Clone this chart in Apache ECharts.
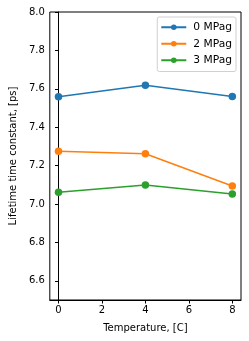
<!DOCTYPE html>
<html><head><meta charset="utf-8">
<script src="https://cdn.jsdelivr.net/npm/echarts@6/dist/echarts.min.js"></script>
<style>html,body{margin:0;padding:0;background:#fff}#c{width:249px;height:341px}</style>
</head><body><div id="c"></div>
<script>
const temperatures = [0, 4, 8];
const seriesNames = ['0 MPag', '2 MPag', '3 MPag'];
const values0 = [7.558, 7.619, 7.56];
const values2 = [7.275, 7.262, 7.094];
const values3 = [7.061, 7.099, 7.052];
const xTicks = [0, 2, 4, 6, 8];
const yTicks = [6.6, 6.8, 7.0, 7.2, 7.4, 7.6, 7.8, 8.0];
const colors = ['#1f77b4', '#ff7f0e', '#2ca02c'];
const allValues = [values0, values2, values3];

const font = 'DejaVu Sans';
const chart = echarts.init(document.getElementById('c'));
chart.setOption({
  animation: false,
  textStyle: {fontFamily: font},
  grid: {left: 47, top: 12, right: 8, bottom: 41, show: true, borderColor: '#000', borderWidth: 1, backgroundColor: 'transparent'},
  legend: {
    orient: 'vertical', right: 13, top: 17,
    itemWidth: 25, itemHeight: 7, itemGap: 4,
    padding: [4, 4, 5, 3],
    borderColor: '#d0d0d0', borderWidth: 1, borderRadius: 2,
    backgroundColor: 'rgba(255,255,255,0.8)',
    textStyle: {fontFamily: font, fontSize: 10.7, lineHeight: 12.5, color: '#000', padding: [0, 0, 0, 2]},
    data: seriesNames
  },
  xAxis: {
    type: 'value', min: -0.4, max: 8.4,
    name: 'Temperature, [C]', nameLocation: 'middle', nameGap: 23,
    nameTextStyle: {fontFamily: font, fontSize: 10, color: '#000'},
    axisLine: {show: true, lineStyle: {color: '#000', width: 1}},
    axisTick: {show: true, inside: false, length: 3.5, customValues: xTicks, lineStyle: {color: '#000'}},
    axisLabel: {customValues: xTicks, fontFamily: font, fontSize: 10, color: '#000', margin: 5},
    splitLine: {show: false}
  },
  yAxis: {
    type: 'value', min: 6.5, max: 8.0,
    name: 'Lifetime time constant, [ps]', nameLocation: 'middle', nameGap: 31,
    nameTextStyle: {fontFamily: font, fontSize: 10, color: '#000'},
    axisLine: {show: true, lineStyle: {color: '#000', width: 1}},
    axisTick: {show: true, inside: false, length: 3.5, customValues: yTicks, lineStyle: {color: '#000'}},
    axisLabel: {customValues: yTicks, fontFamily: font, fontSize: 10, color: '#000', margin: 5,
      formatter: v => v.toFixed(1)},
    splitLine: {show: false}
  },
  series: seriesNames.map((n, i) => ({
    name: n, type: 'line',
    data: temperatures.map((t, j) => [t, allValues[i][j]]),
    symbol: 'circle', symbolSize: 7.5,
    itemStyle: {color: colors[i]},
    lineStyle: {color: colors[i], width: 1.5}
  }))
});
</script></body></html>
